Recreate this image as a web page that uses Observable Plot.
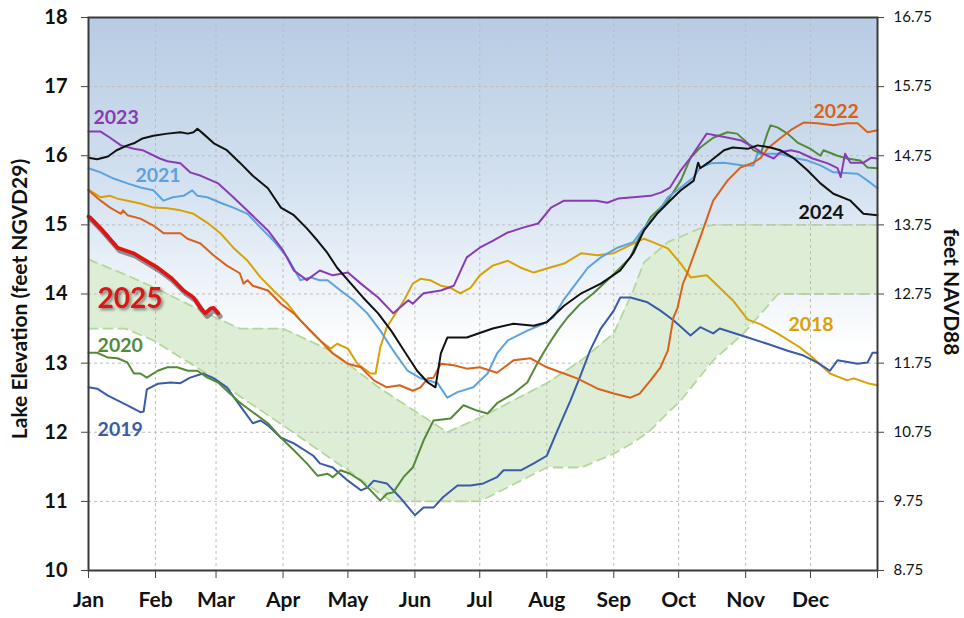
<!DOCTYPE html>
<html><head><meta charset="utf-8">
<script src="https://cdn.jsdelivr.net/npm/d3@7"></script>
<script src="https://cdn.jsdelivr.net/npm/@observablehq/plot@0.6"></script>
<style>
body{margin:0;background:#fff;font-family:Lato,sans-serif;}
</style></head><body><div id="chart"></div>
<script>
// ---- axis definitions ----
const monthDays = [0, 31, 59, 90, 120, 151, 181, 212, 243, 273, 304, 334];
const monthLabels = ["Jan","Feb","Mar","Apr","May","Jun","Jul","Aug","Sep","Oct","Nov","Dec"];
const elevTicks = [10, 11, 12, 13, 14, 15, 16, 17, 18];
const navd88Offset = 1.25;

// ---- envelope band (day of year, feet NGVD29) ----
const bandDays = [0, 17, 30, 52, 58, 70, 90, 112, 120, 135, 140, 166, 181, 212, 228, 243, 252, 257, 259, 268, 274, 283, 289, 303, 319, 365];
const bandLow  = [13.5, 13.5, 13.33, 12.9, 12.78, 12.52, 12.1, 11.62, 11.45, 11.11, 11.0, 11.0, 11.0, 11.49, 11.49, 11.69, 11.85, 11.96, 12.0, 12.28, 12.46, 12.81, 13.04, 13.43, 14.0, 14.0];
const bandHigh = [14.5, 14.28, 14.10, 13.76, 13.67, 13.5, 13.5, 13.18, 12.99, 12.63, 12.53, 12.0, 12.21, 12.71, 13.04, 13.43, 14.05, 14.46, 14.51, 14.75, 14.83, 14.95, 15.0, 15.0, 15.0, 15.0];

// ---- yearly stage series: [day of year, elevation ft NGVD29] ----
const y2018 = [[0,15.51],[5.6,15.40],[10,15.42],[13.4,15.38],[18,15.35],[24,15.31],[30,15.25],[36.5,15.24],[42.5,15.21],[48.6,15.16],[55,15.03],[61,14.88],[67,14.67],[73.6,14.48],[79.6,14.24],[85.6,14.05],[92,13.86],[98,13.62],[104,13.43],[107,13.33],[112,13.21],[115,13.28],[120,13.21],[124.4,12.99],[130.5,12.85],[132.8,12.85],[135,13.23],[138,13.52],[146,13.91],[150,14.15],[153.6,14.22],[158,14.20],[163,14.12],[167.5,14.09],[172,14.01],[176.7,14.09],[181,14.27],[187,14.41],[194,14.48],[200,14.38],[206,14.31],[212,14.37],[220,14.44],[228,14.59],[235.5,14.56],[243,14.59],[252,14.73],[257,14.80],[261,14.75],[268,14.66],[274,14.44],[278.5,14.24],[286,14.27],[292,14.09],[298,13.91],[305,13.63],[311,13.56],[318.7,13.43],[329,13.23],[335,13.08],[343,12.85],[351,12.75],[354,12.78],[360.4,12.71],[365,12.68]];
const y2019 = [[0,12.65],[4,12.63],[9,12.53],[13.4,12.46],[18,12.39],[24,12.29],[25.5,12.30],[27,12.62],[32,12.70],[38,12.72],[42.5,12.71],[47,12.79],[53,12.85],[58,12.78],[64,12.65],[70,12.39],[76,12.13],[79.6,12.17],[83,12.10],[89,11.92],[95,11.84],[104,11.66],[107,11.55],[113,11.49],[120,11.30],[126,11.16],[129,11.20],[132,11.30],[138,11.26],[144,11.06],[151,10.80],[155,10.91],[159.6,10.91],[164,11.06],[170.7,11.23],[176.7,11.23],[182.7,11.26],[189,11.35],[192,11.45],[200,11.45],[206,11.55],[212,11.66],[217,12.03],[223,12.46],[227.6,12.82],[232,13.18],[237,13.50],[243,13.76],[246,13.95],[250.7,13.95],[258.6,13.88],[264.6,13.76],[270.6,13.62],[278.5,13.40],[283,13.52],[289,13.43],[292,13.50],[305,13.37],[314,13.28],[323.4,13.18],[330.8,13.11],[337,13.01],[343,12.89],[346.5,13.04],[355.8,12.99],[360.4,13.01],[362.7,13.15],[365,13.15]];
const y2020 = [[0,13.15],[4,13.15],[9,13.08],[13.4,13.07],[18,13.01],[21,12.85],[24,12.85],[27,12.79],[32,12.89],[36.5,12.94],[41,12.94],[46,12.89],[50.4,12.89],[55,12.79],[60,12.72],[64,12.60],[70,12.43],[76,12.29],[83,12.13],[89,11.92],[95,11.74],[101,11.55],[106,11.37],[110.6,11.40],[113,11.35],[116.6,11.45],[121,11.40],[126,11.30],[130.5,11.16],[135,11.01],[138,11.11],[141,11.13],[145.7,11.35],[150,11.49],[155,11.88],[159.6,12.17],[167.5,12.20],[173.5,12.39],[180,12.31],[184.6,12.27],[189,12.42],[196.6,12.56],[203,12.72],[207.7,13.0],[212,13.23],[217,13.47],[221.6,13.66],[227.6,13.86],[233.6,14.01],[240,14.20],[246,14.38],[250.7,14.53],[254,14.77],[260,15.11],[268,15.35],[274,15.64],[278.5,15.97],[283,16.12],[289,16.26],[295.6,16.34],[300,16.32],[305,16.18],[307.6,16.08],[311,16.03],[314,16.32],[315.5,16.44],[318.7,16.41],[323.4,16.32],[328,16.19],[334,16.10],[338.6,16.0],[340,16.08],[346.5,16.0],[351,15.96],[357,15.93],[360.4,15.83],[365,15.82]];
const y2021 = [[0,15.82],[5.6,15.76],[11.6,15.67],[18,15.60],[24,15.54],[30,15.50],[34.7,15.35],[39,15.40],[44,15.42],[48,15.50],[50.4,15.42],[55,15.40],[61,15.32],[67,15.25],[73.6,15.16],[79.6,14.96],[85.6,14.77],[92,14.53],[98,14.20],[102.7,14.24],[107,14.20],[110.6,14.20],[116.6,14.05],[122.6,13.91],[129,13.72],[135,13.47],[141,13.18],[147.6,12.89],[153.6,12.78],[161.5,12.71],[166,12.50],[170.7,12.58],[178,12.65],[184.6,12.85],[189,13.14],[194,13.33],[203,13.47],[210.5,13.57],[215,13.66],[219.7,13.91],[224,14.09],[231,14.38],[237,14.53],[244.7,14.67],[252,14.75],[257,14.96],[263,15.16],[268,15.40],[274,15.54],[280,15.69],[283,15.83],[288,15.89],[294,15.90],[303,15.86],[307.6,15.86],[309.5,16.03],[320,16.03],[326,15.97],[332.6,15.93],[338.6,15.86],[344.6,15.76],[355.8,15.74],[360.4,15.64],[365,15.53]];
const y2022 = [[0,15.50],[5.6,15.35],[10,15.25],[15,15.16],[16,15.21],[18,15.14],[24,15.09],[30,14.99],[34.7,14.88],[42.5,14.88],[45.8,14.80],[51.8,14.73],[57.8,14.56],[64,14.41],[70,14.30],[71.7,14.15],[73.6,14.20],[76,14.12],[83,14.05],[89,13.86],[95,13.72],[101,13.52],[107,13.33],[113,13.14],[120,12.99],[126,12.94],[132,12.75],[138,12.65],[144,12.68],[150,12.60],[153.6,12.65],[157,12.78],[159.6,12.79],[163,12.99],[169,12.97],[175,12.92],[181,12.94],[189,12.86],[196.6,13.04],[204.5,13.07],[212,12.94],[220,12.85],[226,12.78],[235.5,12.63],[243,12.56],[250.7,12.50],[255,12.56],[260,12.75],[264.6,12.94],[268,13.18],[270.6,13.66],[272.5,13.80],[275,14.15],[277,14.30],[283,14.82],[289,15.35],[295.6,15.64],[301.6,15.83],[307.6,15.90],[311,15.97],[314,16.10],[318.7,16.22],[324.8,16.37],[330.8,16.48],[337,16.47],[344.6,16.44],[351,16.47],[355.8,16.47],[360.4,16.34],[365,16.37]];
const y2023 = [[0,16.35],[5.6,16.35],[10,16.26],[15,16.15],[21,16.10],[25,16.08],[33,15.96],[36.5,15.92],[42.5,15.89],[47,15.76],[52,15.71],[60,15.60],[67,15.40],[75,15.16],[83,14.92],[90,14.63],[95,14.34],[101,14.20],[107,14.34],[113,14.27],[120,14.31],[126,14.15],[134,13.95],[141,13.72],[148,13.91],[150,13.86],[155,14.01],[163,14.05],[169,14.12],[175,14.53],[181,14.67],[187,14.77],[194,14.89],[201,14.96],[208,15.02],[214,15.25],[220,15.35],[228,15.35],[235,15.35],[240,15.32],[245,15.38],[252,15.40],[260,15.42],[265,15.47],[269,15.54],[274,15.79],[278.5,15.97],[283,16.18],[286,16.32],[291,16.29],[296,16.26],[302,16.22],[308,16.12],[312,16.03],[317,15.96],[320,16.05],[325,16.08],[329,16.05],[335,15.96],[342,15.89],[346.5,15.82],[348,15.69],[350,16.03],[352.5,15.90],[358.5,15.90],[362,15.97],[365,15.96]];
const y2024 = [[0,15.97],[4,15.95],[9,15.99],[13,16.08],[18,16.15],[21,16.18],[25,16.25],[30,16.29],[36.5,16.32],[42.5,16.34],[46,16.32],[48.6,16.34],[50.4,16.39],[53,16.32],[58,16.18],[64,16.08],[70,15.90],[76,15.71],[83,15.53],[89,15.25],[95,15.14],[101,14.95],[106,14.77],[110.6,14.59],[115,14.38],[120,14.20],[127,13.95],[134,13.72],[140,13.47],[146,13.18],[152,12.89],[157,12.72],[160.5,12.65],[163,13.14],[166,13.37],[175,13.37],[187,13.50],[196.6,13.57],[206,13.54],[212,13.59],[220,13.83],[228,14.01],[237,14.15],[246,14.34],[252,14.59],[257,14.92],[263,15.16],[269,15.35],[274,15.50],[280,15.64],[282,15.90],[283,15.82],[288,15.93],[294,16.08],[298,16.12],[305,16.10],[309.5,16.15],[315.5,16.12],[320,16.08],[326,15.97],[332.6,15.79],[338.6,15.60],[344.6,15.45],[352.5,15.35],[358.5,15.16],[365,15.14]];
const y2025 = [[0,15.12],[1,15.10],[5.6,14.95],[13.4,14.67],[20.8,14.59],[24,14.53],[32,14.38],[38,14.24],[44,14.05],[48.6,13.95],[51.8,13.80],[54,13.72],[56.4,13.79],[57.8,13.80],[60,13.72]];

// ---- series styling and labels ----
const seriesNames  = ["2018","2019","2020","2021","2022","2023","2024","2025"];
const seriesData   = [y2018, y2019, y2020, y2021, y2022, y2023, y2024, y2025];
const seriesColors = ["#D9A106","#3A5BA8","#538A38","#5CA2DE","#D8621C","#8A3AB5","#111111","#E01414"];
// label anchor points (day, elevation)
const labelDays = [323.8, 4.2, 4.2, 21.7, 335.4, 2.3, 328.5, 4.2];
const labelElev = [13.56, 12.03, 13.25, 15.71, 16.63, 16.55, 15.18, 13.93];

const band = bandDays.map((d, i) => ({day: d, low: bandLow[i], high: bandHigh[i]}));
const monthMap = new Map(monthDays.map((d, i) => [d, monthLabels[i]]));
const labels = seriesNames.map((n, i) => ({name: n, day: labelDays[i], elev: labelElev[i], color: seriesColors[i]}));
const smallLabels = labels.filter(d => d.name !== "2025");
const bigLabel = labels.filter(d => d.name === "2025");

const lineMarks = [];
seriesData.forEach((data, i) => {
  if (seriesNames[i] === "2025") {
    lineMarks.push(Plot.line(data, {x: d => d[0], y: d => d[1], stroke: "#000", strokeOpacity: 0.4, strokeWidth: 5, dx: 2, dy: 3}));
    lineMarks.push(Plot.line(data, {x: d => d[0], y: d => d[1], stroke: seriesColors[i], strokeWidth: 3.8}));
  } else {
    lineMarks.push(Plot.line(data, {x: d => d[0], y: d => d[1], stroke: seriesColors[i], strokeWidth: 2}));
  }
});

const plot = Plot.plot({
  width: 964,
  height: 618,
  marginLeft: 88,
  marginRight: 87,
  marginTop: 17,
  marginBottom: 48,
  style: {fontFamily: "Lato, sans-serif", background: "white", color: "#111"},
  x: {domain: [0, 365], axis: null},
  y: {domain: [10, 18], axis: null},
  marks: [
    Plot.frame({fill: "url(#bgGrad)", stroke: null}),
    Plot.areaY(band, {x: "day", y1: "low", y2: "high", fill: "#deedd5"}),
    Plot.line(band, {x: "day", y: "low", stroke: "#b2d89a", strokeWidth: 1.8, strokeDasharray: "9,6"}),
    Plot.line(band, {x: "day", y: "high", stroke: "#b2d89a", strokeWidth: 1.8, strokeDasharray: "9,6"}),
    Plot.gridY(elevTicks.slice(1, -1), {stroke: "#bdbdbd", strokeOpacity: 1, strokeDasharray: "3,3"}),
    Plot.gridX(monthDays.slice(1), {stroke: "#bdbdbd", strokeOpacity: 1, strokeDasharray: "3,3"}),
    ...lineMarks,
    Plot.text(smallLabels, {x: "day", y: "elev", text: "name", fill: "color", textAnchor: "start", fontSize: 19.5, fontWeight: "bold"}),
    Plot.text(bigLabel, {x: "day", y: "elev", text: "name", fill: "color", textAnchor: "start", fontSize: 28, fontWeight: "bold"}),
    Plot.frame({stroke: "#3a3a3a", strokeWidth: 2}),
    Plot.axisY(elevTicks, {anchor: "left", tickSize: 7, tickPadding: 14, fontSize: 20, fontWeight: "bold", label: null, stroke: "#444", tickFormat: d => String(d)}),
    Plot.axisY(elevTicks, {anchor: "right", tickSize: 6, tickPadding: 10, fontSize: 15, label: null, stroke: "#444", tickFormat: d => (d - navd88Offset).toFixed(2)}),
    Plot.axisX([...monthDays, 365], {anchor: "bottom", tickSize: 8, tickPadding: 14, fontSize: 21, fontWeight: "bold", label: null, stroke: "#444", tickFormat: d => monthMap.get(d) ?? ""}),
    Plot.text(["Lake Elevation (feet NGVD29)"], {frameAnchor: "left", textAnchor: "middle", dx: -68, dy: 5, rotate: -90, fontSize: 21, fontWeight: "bold", fill: "#111"}),
    Plot.text(["feet NAVD88"], {frameAnchor: "right", textAnchor: "middle", dx: 73, dy: -2, rotate: 90, fontSize: 21, fontWeight: "bold", fill: "#111"})
  ]
});

const svg = d3.select(plot);
const grad = svg.insert("defs", ":first-child").append("linearGradient")
  .attr("id", "bgGrad").attr("x1", 0).attr("y1", 0).attr("x2", 0).attr("y2", 1);
grad.append("stop").attr("offset", "0%").attr("stop-color", "#b7cbe3");
grad.append("stop").attr("offset", "30%").attr("stop-color", "#d3e1f0");
grad.append("stop").attr("offset", "60%").attr("stop-color", "#ffffff");
grad.append("stop").attr("offset", "100%").attr("stop-color", "#ffffff");
svg.selectAll("text").filter(function () { return this.textContent === "2025"; })
  .style("filter", "drop-shadow(2px 2px 1.5px rgba(0,0,0,0.45))");

document.getElementById("chart").appendChild(plot);
</script>
</body></html>
